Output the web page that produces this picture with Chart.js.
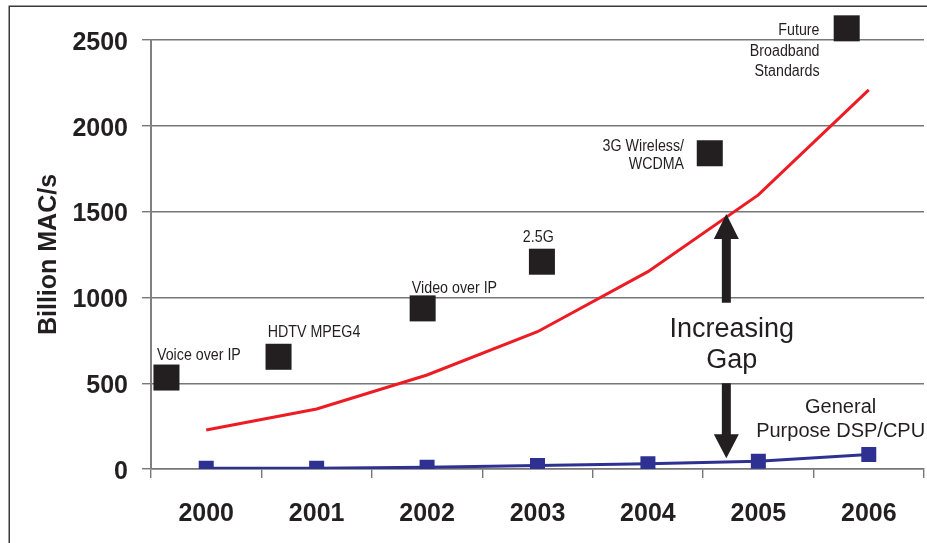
<!DOCTYPE html>
<html>
<head>
<meta charset="utf-8">
<script src="https://cdn.jsdelivr.net/npm/chart.js@4/dist/chart.umd.min.js"></script>
<style>
  html, body { margin: 0; padding: 0; background: #fff; overflow: hidden; }
  #wrap { width: 927px; height: 543px; position: relative; }
  canvas { display: block; }
</style>
</head>
<body>
<div id="wrap"><canvas id="c"></canvas></div>
<script>
// Categories and tick labels
const years = ['2000', '2001', '2002', '2003', '2004', '2005', '2006'];
const yTicks = [0, 500, 1000, 1500, 2000, 2500];

// Processing demand of broadband standards (red curve), Billion MAC/s
const dspDemand = [227, 350, 548, 800, 1150, 1597, 2209];
// General purpose DSP/CPU performance (blue), Billion MAC/s
const generalPurpose = [5, 5, 10, 20, 30, 45, 85];

// Individual applications: name lines, position in years (fractional index) and demand
const appNames = [['Voice over IP'], ['HDTV MPEG4'], ['Video over IP'], ['2.5G'], ['3G Wireless/', 'WCDMA'], ['Future', 'Broadband', 'Standards']];
const appYear = [-0.36, 0.655, 1.96, 3.04, 4.56, 5.80];
const appMac = [533, 654, 936, 1208, 1840, 2568];

const gapText = ['Increasing', 'Gap'];
const gpText = ['General', 'Purpose DSP/CPU'];

// ---- styling / annotation layout ----
const INK = '#231F20';
const FONT = "'Liberation Sans', Arial, Helvetica, sans-serif";

// label placement relative to each application square (pixels)
const appLabelLayout = [
  { dx: -9.5,  dy: -17.5, align: 'left',  lh: 19 },
  { dx: -10.8, dy: -20,   align: 'left',  lh: 19 },
  { dx: -10.8, dy: -15.6, align: 'left',  lh: 19 },
  { dx: 11.8,  dy: -20,   align: 'right', lh: 19 },
  { dx: -25.7, dy: -2.6,  align: 'right', lh: 18.6 },
  { dx: -27.2, dy: 6.7,   align: 'right', lh: 20.5 }
];

// gap arrows and captions, in data coordinates (x = year index, y = Billion MAC/s)
const gapArrowX = 4.71;
const upArrow = { tail: 969, headBase: 1340, tip: 1486 };
const downArrow = { tail: 499, headBase: 202, tip: 62 };
const gapTextPos = { x: 4.76, y: [767, 588] };
const gpTextPos = { x: 5.745, y: [328, 185] };

const framePlugin = {
  id: 'frame',
  beforeDraw(chart) {
    const ctx = chart.ctx;
    ctx.save();
    ctx.fillStyle = '#fff';
    ctx.fillRect(0, 0, chart.width, chart.height);
    ctx.strokeStyle = '#3a3a3a';
    ctx.lineWidth = 1.5;
    ctx.strokeRect(9.25, 6.25, chart.width + 20, chart.height + 20);
    ctx.restore();
  }
};

function condensedText(ctx, text, x, y, align, sx) {
  ctx.save();
  ctx.translate(x, y);
  ctx.scale(sx, 1);
  ctx.textAlign = align;
  ctx.textBaseline = 'alphabetic';
  ctx.fillText(text, 0, 0);
  ctx.restore();
}

function drawArrow(ctx, x, yTail, yHeadBase, yTip, shaftW, headW) {
  ctx.beginPath();
  ctx.moveTo(x - shaftW / 2, yTail);
  ctx.lineTo(x - shaftW / 2, yHeadBase);
  ctx.lineTo(x - headW / 2, yHeadBase);
  ctx.lineTo(x, yTip);
  ctx.lineTo(x + headW / 2, yHeadBase);
  ctx.lineTo(x + shaftW / 2, yHeadBase);
  ctx.lineTo(x + shaftW / 2, yTail);
  ctx.closePath();
  ctx.fill();
}

const annotationPlugin = {
  id: 'annotations',
  afterDatasetsDraw(chart) {
    const ctx = chart.ctx;
    const xs = chart.scales.xa;
    const ys = chart.scales.y;
    ctx.save();
    ctx.fillStyle = INK;

    // application labels
    ctx.font = `16px ${FONT}`;
    appNames.forEach((lines, i) => {
      const px = xs.getPixelForValue(appYear[i]);
      const py = ys.getPixelForValue(appMac[i]);
      const L = appLabelLayout[i];
      lines.forEach((t, k) => {
        condensedText(ctx, t, px + L.dx, py + L.dy + k * L.lh, L.align, 0.89);
      });
    });

    // gap arrows
    const ax = xs.getPixelForValue(gapArrowX);
    drawArrow(ctx, ax, ys.getPixelForValue(upArrow.tail), ys.getPixelForValue(upArrow.headBase), ys.getPixelForValue(upArrow.tip), 9, 25);
    drawArrow(ctx, ax, ys.getPixelForValue(downArrow.tail), ys.getPixelForValue(downArrow.headBase), ys.getPixelForValue(downArrow.tip), 9, 25);

    // captions
    ctx.textAlign = 'center';
    ctx.textBaseline = 'alphabetic';
    ctx.font = `27px ${FONT}`;
    gapText.forEach((t, k) => ctx.fillText(t, xs.getPixelForValue(gapTextPos.x), ys.getPixelForValue(gapTextPos.y[k])));
    ctx.font = `20px ${FONT}`;
    gpText.forEach((t, k) => ctx.fillText(t, xs.getPixelForValue(gpTextPos.x), ys.getPixelForValue(gpTextPos.y[k])));
    ctx.restore();
  }
};

const noSidePadding = s => { s.paddingLeft = 0; s.paddingRight = 0; };

new Chart(document.getElementById('c'), {
  type: 'line',
  data: {
    labels: years,
    datasets: [
      {
        label: 'Broadband standards',
        data: dspDemand,
        xAxisID: 'x',
        borderColor: '#ED1C24',
        borderWidth: 3,
        pointRadius: 0,
        tension: 0
      },
      {
        label: 'General Purpose DSP/CPU',
        data: generalPurpose,
        xAxisID: 'x',
        borderColor: '#2E3192',
        backgroundColor: '#2E3192',
        borderWidth: 3,
        pointStyle: 'rect',
        pointRadius: 10.6,
        pointBorderWidth: 0,
        tension: 0
      },
      {
        label: 'Applications',
        data: appYear.map((x, i) => ({ x, y: appMac[i] })),
        xAxisID: 'xa',
        showLine: false,
        pointStyle: 'rect',
        pointRadius: 18.4,
        pointBorderWidth: 0,
        backgroundColor: INK,
        borderColor: INK,
        clip: false
      }
    ]
  },
  options: {
    responsive: true,
    maintainAspectRatio: false,
    devicePixelRatio: 1,
    animation: false,
    events: [],
    layout: { autoPadding: false, padding: { top: 40, right: 3, bottom: 0, left: 0 } },
    plugins: { legend: { display: false }, tooltip: { enabled: false } },
    scales: {
      x: {
        type: 'category',
        position: 'bottom',
        offset: true,
        grid: { offset: true, drawOnChartArea: false, drawTicks: true, tickLength: 9, color: '#777', lineWidth: 1.4 },
        border: { display: true, color: '#777', width: 1.4 },
        ticks: { font: { family: FONT, size: 25, weight: 'bold' }, color: INK, padding: 21, maxRotation: 0 },
        afterFit: s => { s.height = 74; noSidePadding(s); }
      },
      xa: {
        type: 'linear',
        position: 'bottom',
        display: false,
        min: -0.5,
        max: 6.5,
        afterFit: noSidePadding
      },
      y: {
        min: 0,
        max: 2500,
        afterBuildTicks: s => { s.ticks = yTicks.map(v => ({ value: v })); },
        grid: { color: '#777', lineWidth: 1.4, tickLength: 9 },
        border: { display: true, color: '#808080', width: 2 },
        ticks: {
          font: { family: FONT, size: 25, weight: 'bold' },
          color: INK,
          padding: 14,
          labelOffset: 3,
          callback: v => String(v)
        },
        title: {
          display: true,
          text: 'Billion MAC/s',
          font: { family: FONT, size: 25, weight: 'bold' },
          color: INK,
          padding: { top: 34, bottom: 0 }
        },
        afterFit: s => { s.width = 151; }
      }
    }
  },
  plugins: [framePlugin, annotationPlugin]
});
</script>
</body>
</html>
